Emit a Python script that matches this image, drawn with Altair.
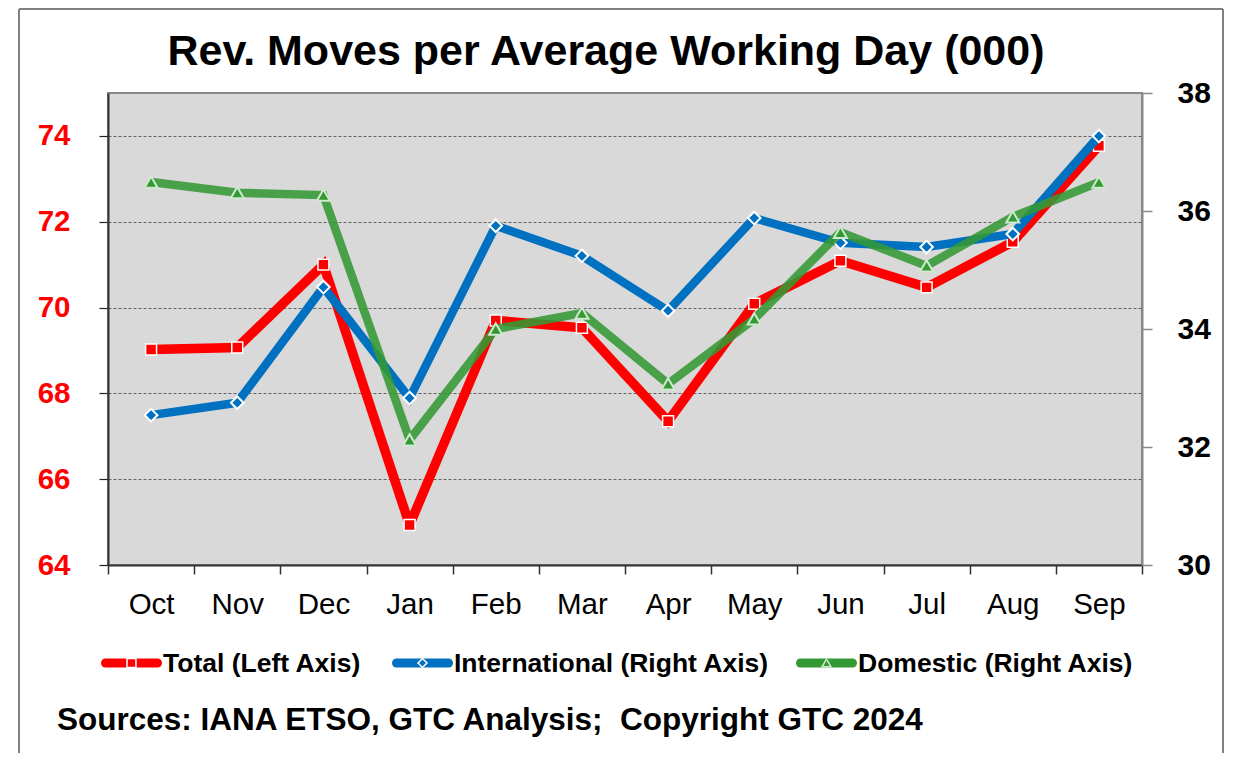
import altair as alt
import pandas as pd

FONT = "Liberation Sans"

months = ["Oct", "Nov", "Dec", "Jan", "Feb", "Mar", "Apr", "May", "Jun", "Jul", "Aug", "Sep"]
total = [69.02, 69.07, 71.00, 64.93, 69.70, 69.53, 67.35, 70.09, 71.09, 70.47, 71.53, 73.77]
international = [32.54, 32.75, 34.71, 32.83, 35.75, 35.24, 34.31, 35.88, 35.46, 35.39, 35.61, 37.27]
domestic = [36.49, 36.31, 36.27, 32.12, 34.00, 34.27, 33.07, 34.17, 35.64, 35.07, 35.90, 36.49]
left_ticks = [64, 66, 68, 70, 72, 74]
right_ticks = [30, 32, 34, 36, 38]
series_names = ["Total (Left Axis)", "International (Right Axis)", "Domestic (Right Axis)"]
title_text = "Rev. Moves per Average Working Day (000)"
source_text = "Sources: IANA ETSO, GTC Analysis;\u00a0 Copyright GTC 2024"

RED = "#ff0000"
BLUE = "#0070c0"
GREEN = "#339933"
colors = [RED, BLUE, GREEN]
shapes = ["square", "diamond", "triangle-up"]
marker_strokes = ["white", "white", "#cfe9cf"]

W, H = 1034, 472

df = pd.DataFrame({"month": months, "total": total, "intl": international, "dom": domestic})

x_enc = alt.X(
    "month:N", sort=months, bandPosition=0.5,
    scale=alt.Scale(type="band", paddingInner=0, paddingOuter=0),
    axis=alt.Axis(title=None, tickBand="extent", labelAngle=0, labelFontSize=29.5,
                  labelFont=FONT, labelColor="black", tickSize=9, tickColor="#333333",
                  tickWidth=1.5, domainColor="#333333", domainWidth=2, labelPadding=16,
                  grid=False),
)

y_left = alt.Y(
    "total:Q",
    scale=alt.Scale(domain=[64, 75], nice=False, zero=False),
    axis=alt.Axis(title=None, orient="left", values=left_ticks, labelColor=RED,
                  labelFontSize=29.5, labelFontWeight="bold", labelFont=FONT,
                  tickSize=9, tickColor="#222222", tickWidth=1.2,
                  domainColor="#333333", domainWidth=2, labelPadding=29,
                  grid=True, gridColor="#444444", gridDash=[3, 2], gridWidth=0.8),
)

y_right_axis = alt.Axis(title=None, orient="right", values=right_ticks, labelColor="black",
                        labelFontSize=30, labelFontWeight="bold", labelFont=FONT,
                        tickSize=10, tickColor="#888888", tickWidth=1.5,
                        domainColor="#888888", domainWidth=2, labelPadding=25, grid=False)
right_scale = alt.Scale(domain=[30, 38], nice=False, zero=False)

base = alt.Chart(df)

red_line = base.mark_line(color=RED, strokeWidth=9.5, strokeMiterLimit=2).encode(x=x_enc, y=y_left)
red_pts = base.mark_point(shape="square", filled=True, fill=RED, stroke="white",
                          strokeWidth=1.5, size=120, opacity=1).encode(x=x_enc, y=y_left)
left_group = alt.layer(red_line, red_pts)

blue_line = base.mark_line(color=BLUE, strokeWidth=8.5, strokeMiterLimit=2).encode(
    x=x_enc, y=alt.Y("intl:Q", scale=right_scale, axis=y_right_axis))
blue_pts = base.mark_point(shape="diamond", filled=True, fill=BLUE, stroke="white",
                           strokeWidth=2, size=160, opacity=1).encode(
    x=x_enc, y=alt.Y("intl:Q", scale=right_scale, axis=y_right_axis))
green_line = base.mark_line(color=GREEN, strokeWidth=8.5, opacity=0.88, strokeMiterLimit=2).encode(
    x=x_enc, y=alt.Y("dom:Q", scale=right_scale, axis=y_right_axis))
green_pts = base.mark_point(shape="triangle-up", filled=True, fill=GREEN, stroke="#cfe9cf",
                            strokeWidth=2, size=170, opacity=1).encode(
    x=x_enc, y=alt.Y("dom:Q", scale=right_scale, axis=y_right_axis))
right_group = alt.layer(blue_line, blue_pts, green_line, green_pts)

# manual legend (layout positions relative to the plot area)
leg_start = [-7, 284, 688]
sym_len = 61
leg_df = pd.DataFrame({
    "name": series_names,
    "color": colors,
    "shape": shapes,
    "mstroke": marker_strokes,
    "x0": [s + 4.5 for s in leg_start],
    "x1": [s + sym_len - 4.5 for s in leg_start],
    "xm": [s + sym_len / 2 for s in leg_start],
    "tx": [s + sym_len + 1 for s in leg_start],
})
leg_base = alt.Chart(leg_df)
leg_lines = leg_base.mark_rule(strokeWidth=9, strokeCap="round").encode(
    x=alt.X("x0:Q", scale=None), x2="x1:Q", y=alt.value(570),
    color=alt.Color("color:N", scale=None))
leg_pts = leg_base.mark_point(filled=True, size=80, strokeWidth=1.5, opacity=1).encode(
    x=alt.X("xm:Q", scale=None), y=alt.value(570),
    shape=alt.Shape("shape:N", scale=None),
    fill=alt.Fill("color:N", scale=None),
    stroke=alt.Stroke("mstroke:N", scale=None))
leg_text = leg_base.mark_text(align="left", baseline="alphabetic", fontSize=26.5,
                              fontWeight="bold", font=FONT, color="black").encode(
    x=alt.X("tx:Q", scale=None), y=alt.value(579), text="name:N")

title_mark = alt.Chart(pd.DataFrame({"t": [title_text]})).mark_text(
    align="center", baseline="alphabetic", fontSize=43, fontWeight="bold", font=FONT,
    color="black").encode(x=alt.value(498), y=alt.value(-28), text="t:N")
source_mark = alt.Chart(pd.DataFrame({"t": [source_text]})).mark_text(
    align="left", baseline="alphabetic", fontSize=31.5, fontWeight="bold", font=FONT,
    color="black").encode(x=alt.value(-51), y=alt.value(637), text="t:N")

frame_color = "#808080"
frame_left = alt.Chart(pd.DataFrame({"a": [0]})).mark_rule(
    color=frame_color, strokeWidth=2).encode(
    x=alt.value(-89), y=alt.value(-84), y2=alt.value(700))
frame_right = alt.Chart(pd.DataFrame({"a": [0]})).mark_rule(
    color=frame_color, strokeWidth=2).encode(
    x=alt.value(1115), y=alt.value(-84), y2=alt.value(700))
frame_top = alt.Chart(pd.DataFrame({"a": [0]})).mark_rule(
    color=frame_color, strokeWidth=2).encode(
    x=alt.value(-89), x2=alt.value(1115), y=alt.value(-84))

chart = alt.layer(
    left_group, right_group, leg_lines, leg_pts, leg_text, title_mark, source_mark,
    frame_left, frame_right, frame_top
).resolve_scale(y="independent").properties(
    width=W, height=H,
    background="white",
    autosize=alt.AutoSizeParams(type="none"),
    padding={"left": 100, "top": 85, "right": 83, "bottom": 188},
).configure_view(
    fill="#d9d9d9", stroke="#888888", strokeWidth=2
)

chart.save("out.html", embed_options={"renderer": "svg", "actions": False})
